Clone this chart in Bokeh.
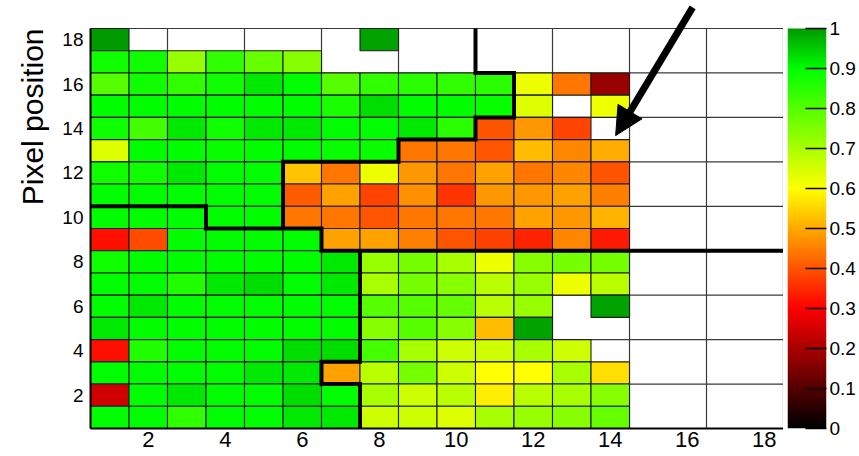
import numpy as np
from bokeh.plotting import figure
from bokeh.models import (ColumnDataSource, LinearColorMapper, FixedTicker, Arrow,
                          NormalHead, Title, Range1d)
from bokeh.layouts import row
from bokeh.embed import file_html
from bokeh.resources import INLINE

N = None
# ---- data: efficiency map, rows listed from pixel row 18 (top) down to 1 ----
row_positions = [18, 17, 16, 15, 14, 13, 12, 11, 10, 9, 8, 7, 6, 5, 4, 3, 2, 1]
col_positions = list(range(1, 19))
row18 = [1.00, N, N, N, N, N, N, 0.99, N, N, N, N, N, N, N, N, N, N]
row17 = [0.88, 0.88, 0.72, 0.84, 0.78, 0.74, N, N, N, N, N, N, N, N, N, N, N, N]
row16 = [0.80, 0.88, 0.84, 0.88, 0.92, 0.90, 0.80, 0.84, 0.85, 0.84, 0.85, 0.62, 0.44, 0.18, N, N, N, N]
row15 = [0.90, 0.90, 0.90, 0.90, 0.90, 0.90, 0.87, 0.93, 0.90, 0.90, 0.89, 0.64, N, 0.62, N, N, N, N]
row14 = [0.88, 0.82, 0.92, 0.88, 0.92, 0.92, 0.90, 0.90, 0.92, 0.85, 0.40, 0.48, 0.38, N, N, N, N, N]
row13 = [0.64, 0.90, 0.90, 0.89, 0.90, 0.90, 0.89, 0.89, 0.44, 0.44, 0.40, 0.52, 0.46, 0.50, N, N, N, N]
row12 = [0.88, 0.88, 0.92, 0.90, 0.90, 0.53, 0.44, 0.62, 0.48, 0.44, 0.49, 0.44, 0.46, 0.40, N, N, N, N]
row11 = [0.90, 0.90, 0.90, 0.90, 0.90, 0.41, 0.49, 0.38, 0.47, 0.36, 0.48, 0.48, 0.49, 0.45, N, N, N, N]
row10 = [0.90, 0.90, 0.90, 0.90, 0.90, 0.44, 0.44, 0.40, 0.44, 0.44, 0.44, 0.49, 0.48, 0.51, N, N, N, N]
row9 = [0.32, 0.39, 0.90, 0.90, 0.90, 0.90, 0.49, 0.49, 0.45, 0.40, 0.375, 0.34, 0.46, 0.33, N, N, N, N]
row8 = [0.88, 0.90, 0.90, 0.90, 0.90, 0.90, 0.92, 0.72, 0.76, 0.70, 0.62, 0.74, 0.76, 0.76, N, N, N, N]
row7 = [0.90, 0.90, 0.86, 0.92, 0.93, 0.90, 0.92, 0.70, 0.76, 0.74, 0.68, 0.72, 0.62, 0.68, N, N, N, N]
row6 = [0.90, 0.92, 0.90, 0.90, 0.90, 0.90, 0.90, 0.80, 0.80, 0.78, 0.68, 0.72, N, 0.99, N, N, N, N]
row5 = [0.92, 0.90, 0.90, 0.90, 0.90, 0.90, 0.90, 0.74, 0.80, 0.74, 0.52, 0.99, N, N, N, N, N, N]
row4 = [0.32, 0.86, 0.90, 0.90, 0.90, 0.93, 0.93, 0.82, 0.70, 0.66, 0.66, 0.70, 0.66, N, N, N, N, N]
row3 = [0.90, 0.90, 0.90, 0.90, 0.92, 0.92, 0.49, 0.68, 0.76, 0.66, 0.60, 0.60, 0.70, 0.56, N, N, N, N]
row2 = [0.245, 0.90, 0.92, 0.90, 0.90, 0.93, 0.90, 0.70, 0.66, 0.68, 0.58, 0.68, 0.70, 0.74, N, N, N, N]
row1 = [0.90, 0.90, 0.84, 0.90, 0.90, 0.92, 0.92, 0.66, 0.66, 0.64, 0.70, 0.72, 0.74, 0.78, N, N, N, N]
grid_rows = [row18, row17, row16, row15, row14, row13, row12, row11, row10,
             row9, row8, row7, row6, row5, row4, row3, row2, row1]

# coarse (2x2) bin edges of the empty-map grid
coarse_edges = [0.5, 2.5, 4.5, 6.5, 8.5, 10.5, 12.5, 14.5, 16.5, 18.5]
axis_ticks = [2, 4, 6, 8, 10, 12, 14, 16, 18]
y_title = "Pixel position"

# region boundaries (bin-edge paths)
boundary_low_x = [0.5, 3.5, 3.5, 6.5, 6.5, 18.5]
boundary_low_y = [10.5, 10.5, 9.5, 9.5, 8.5, 8.5]
boundary_up_x = [5.5, 5.5, 8.5, 8.5, 10.5, 10.5, 11.5, 11.5, 10.5, 10.5]
boundary_up_y = [9.5, 12.5, 12.5, 13.5, 13.5, 14.5, 14.5, 16.5, 16.5, 18.5]
boundary_mid_x = [7.5, 7.5, 6.5, 6.5, 7.5, 7.5]
boundary_mid_y = [8.5, 3.5, 3.5, 2.5, 2.5, 0.5]

# arrow pointing at the dead pixel (14,14)
arrow_start = (16.14, 19.45)
arrow_end = (14.14, 13.68)

# colour scale
cb_ticks = [0, 0.1, 0.2, 0.3, 0.4, 0.5, 0.6, 0.7, 0.8, 0.9, 1]
cb_labels = ["0", "0.1", "0.2", "0.3", "0.4", "0.5", "0.6", "0.7", "0.8", "0.9", "1"]
cmap_stops = [0.0, 0.3, 0.6, 0.9, 1.0]
cmap_r = [0, 255, 255, 0, 0]
cmap_g = [0, 0, 255, 255, 155]
cmap_b = [0, 0, 0, 0, 0]

FONT = "Liberation Sans"
GRID_COLOR = "#3a3a3a"
MAP_PX = 400   # height of the map in pixels
TOP_PX = 28    # free space above the map (arrow tail lives there)

t = np.linspace(0, 1, 256)
palette = ["#%02x%02x%02x" % (int(round(np.interp(s, cmap_stops, cmap_r))),
                              int(round(np.interp(s, cmap_stops, cmap_g))),
                              int(round(np.interp(s, cmap_stops, cmap_b)))) for s in t]
mapper = LinearColorMapper(palette=palette, low=0, high=1)

xs, ys, vs = [], [], []
for yv, rvals in zip(row_positions, grid_rows):
    for xv, val in zip(col_positions, rvals):
        if val is not None:
            xs.append(xv)
            ys.append(yv)
            vs.append(val)
src = ColumnDataSource(dict(x=xs, y=ys, v=vs))

lo, hi = coarse_edges[0], coarse_edges[-1]
top_pad = TOP_PX / (MAP_PX / (hi - lo))
p = figure(frame_width=693, frame_height=MAP_PX + TOP_PX,
           x_range=Range1d(lo, hi), y_range=Range1d(lo, hi + top_pad),
           output_backend="svg", toolbar_location=None,
           min_border_left=90, min_border_right=0, min_border_top=0, min_border_bottom=27)
p.background_fill_color = "white"
p.border_fill_color = "white"
p.outline_line_color = None
p.grid.visible = False

for ax in (p.xaxis, p.yaxis):
    ax.ticker = FixedTicker(ticks=axis_ticks)
    ax.axis_line_color = "black"
    ax.axis_line_width = 2
    ax.major_tick_out = 0
    ax.major_tick_in = 0
    ax.minor_tick_out = 0
    ax.minor_tick_in = 0
    ax.major_label_text_font = FONT
    ax.major_label_text_color = "black"
p.yaxis.bounds = (lo, hi)

p.xaxis.major_label_text_font_size = "22px"
p.xaxis.major_label_standoff = 3
p.yaxis.major_label_text_font_size = "19px"
p.yaxis.major_label_standoff = 7

p.add_layout(Title(text=y_title, align="right", offset=TOP_PX, text_font=FONT,
                   text_font_size="30px", text_font_style="normal", text_color="black",
                   standoff=22), "left")

# coarse grid (drawn below the cells)
n_e = len(coarse_edges)
p.segment(x0=coarse_edges, y0=[lo] * n_e, x1=coarse_edges, y1=[hi] * n_e,
          line_color=GRID_COLOR, line_width=1.2)
p.segment(x0=[lo] * n_e, y0=coarse_edges, x1=[hi] * n_e, y1=coarse_edges,
          line_color=GRID_COLOR, line_width=1.2)

p.rect(x="x", y="y", width=1, height=1, source=src,
       fill_color={"field": "v", "transform": mapper},
       line_color="#1e1e1e", line_width=1.1)

p.multi_line(xs=[boundary_low_x, boundary_up_x, boundary_mid_x],
             ys=[boundary_low_y, boundary_up_y, boundary_mid_y],
             line_color="black", line_width=4, line_join="miter")

p.add_layout(Arrow(x_start=arrow_start[0], y_start=arrow_start[1],
                   x_end=arrow_end[0], y_end=arrow_end[1],
                   line_width=7, line_color="black",
                   end=NormalHead(size=28, fill_color="black", line_color="black")))

# colour bar (same frame height so that the row aligns; white band on top)
cb_pad = TOP_PX / MAP_PX
cb = figure(frame_width=39, frame_height=MAP_PX + TOP_PX,
            x_range=Range1d(0, 1), y_range=Range1d(0, 1 + cb_pad),
            output_backend="svg", toolbar_location=None,
            x_axis_location=None, y_axis_location="right",
            min_border_left=4, min_border_right=0, min_border_top=0, min_border_bottom=27)
cb.grid.visible = False
cb.outline_line_color = None
cb.border_fill_color = "white"
cb.background_fill_color = "white"
grad_img = t.reshape(-1, 1)
cb.image(image=[grad_img], x=0, y=0, dw=1, dh=1, color_mapper=mapper)
cb.yaxis.ticker = FixedTicker(ticks=cb_ticks)
cb.yaxis.major_label_overrides = dict(zip(cb_ticks, cb_labels))
cb.yaxis.bounds = (0, 1)
cb.yaxis.axis_line_color = None
cb.yaxis.major_tick_in = 21
cb.yaxis.major_tick_out = 0
cb.yaxis.minor_tick_in = 0
cb.yaxis.minor_tick_out = 0
cb.yaxis.major_tick_line_color = "black"
cb.yaxis.major_tick_line_width = 1.5
cb.yaxis.major_label_standoff = 3
cb.yaxis.major_label_text_font = FONT
cb.yaxis.major_label_text_font_size = "19px"
cb.yaxis.major_label_text_color = "black"

layout = row(p, cb)
open("out.html", "w").write(file_html(layout, INLINE))
